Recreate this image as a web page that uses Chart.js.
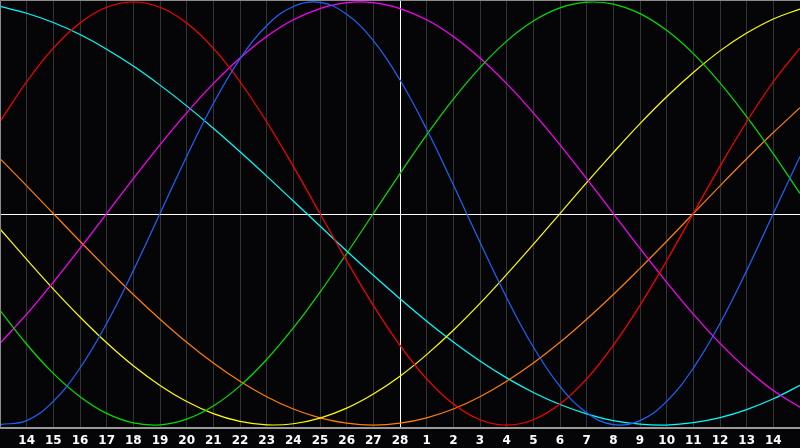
<!DOCTYPE html>
<html>
<head>
<meta charset="utf-8">
<script src="https://cdn.jsdelivr.net/npm/chart.js@4.4.0/dist/chart.umd.min.js"></script>
<style>
  html, body { margin: 0; padding: 0; background: #050507; }
  canvas { display: block; }
</style>
</head>
<body>
<canvas id="bioChart" width="800" height="448"></canvas>
<script>
// day labels, from the 13th to the 15th of the next month
const days = ['13', '14', '15', '16', '17', '18', '19', '20', '21', '22', '23', '24', '25', '26', '27', '28',
    '1', '2', '3', '4', '5', '6', '7', '8', '9', '10', '11', '12', '13', '14', '15'];

const physical = [-0.998, -0.979, -0.888, -0.731, -0.520, -0.270, 0, 0.270, 0.520, 0.731, 0.888, 0.979, 0.998,
    0.942, 0.817, 0.631, 0.398, 0.136, -0.136, -0.398, -0.631, -0.817, -0.942, -0.998, -0.979, -0.888, -0.731,
    -0.520, -0.270, 0, 0.270];
const emotional = [0.434, 0.623, 0.782, 0.901, 0.975, 1, 0.975, 0.901, 0.782, 0.623, 0.434, 0.223, 0,
    -0.223, -0.434, -0.623, -0.782, -0.901, -0.975, -1, -0.975, -0.901, -0.782, -0.623, -0.434, -0.223, 0,
    0.223, 0.434, 0.623, 0.782];
const intellectual = [-0.458, -0.618, -0.756, -0.866, -0.945, -0.990, -0.999, -0.972, -0.910, -0.815, -0.690,
    -0.541, -0.372, -0.189, 0, 0.189, 0.372, 0.541, 0.690, 0.815, 0.910, 0.972, 0.999, 0.990, 0.945, 0.866,
    0.756, 0.618, 0.458, 0.282, 0.095];
const intuitive = [-0.614, -0.476, -0.325, -0.165, 0, 0.165, 0.325, 0.476, 0.614, 0.735, 0.837, 0.916, 0.969,
    0.997, 0.997, 0.969, 0.916, 0.837, 0.735, 0.614, 0.476, 0.325, 0.165, 0, -0.165, -0.325, -0.476, -0.614,
    -0.735, -0.837, -0.916];
const aesthetic = [-0.073, -0.217, -0.357, -0.489, -0.611, -0.720, -0.813, -0.889, -0.946, -0.983, -0.999,
    -0.994, -0.967, -0.920, -0.853, -0.769, -0.667, -0.552, -0.425, -0.288, -0.146, 0, 0.146, 0.288, 0.425,
    0.552, 0.667, 0.769, 0.853, 0.920, 0.967];
const awareness = [0.259, 0.131, 0, -0.131, -0.259, -0.383, -0.5, -0.609, -0.707, -0.793, -0.866, -0.924,
    -0.966, -0.991, -1, -0.991, -0.966, -0.924, -0.866, -0.793, -0.707, -0.609, -0.5, -0.383, -0.259, -0.131,
    0, 0.131, 0.259, 0.383, 0.5];
const spiritual = [0.979, 0.947, 0.903, 0.846, 0.777, 0.697, 0.607, 0.509, 0.403, 0.292, 0.177, 0.059, -0.059,
    -0.177, -0.292, -0.403, -0.509, -0.607, -0.697, -0.777, -0.846, -0.903, -0.947, -0.979, -0.996, -1, -0.989,
    -0.965, -0.927, -0.876, -0.812];

const todayIndex = 15;

// gray frame on top/left and the white zero line across the plot
const framePlugin = {
    id: 'frame',
    beforeDatasetsDraw(chart) {
        const { ctx, chartArea, scales } = chart;
        const y0 = Math.round(scales.y.getPixelForValue(0)) + 0.5;
        ctx.save();
        ctx.strokeStyle = '#ffffff';
        ctx.lineWidth = 1;
        ctx.beginPath();
        ctx.moveTo(chartArea.left, y0);
        ctx.lineTo(chartArea.right, y0);
        ctx.stroke();
        ctx.restore();
    },
    afterDatasetsDraw(chart) {
        const { ctx, chartArea } = chart;
        ctx.save();
        ctx.strokeStyle = '#8a8a8a';
        ctx.lineWidth = 1;
        ctx.beginPath();
        ctx.moveTo(chartArea.left + 0.5, chartArea.bottom);
        ctx.lineTo(chartArea.left + 0.5, chartArea.top + 0.5);
        ctx.lineTo(chartArea.right, chartArea.top + 0.5);
        ctx.stroke();
        ctx.restore();
    }
};

function line(label, data, color) {
    return {
        label: label,
        data: data,
        borderColor: color,
        borderWidth: 1.2,
        pointRadius: 0,
        tension: 0.4,
        fill: false
    };
}

const ctx = document.getElementById('bioChart').getContext('2d');
const chart = new Chart(ctx, {
    type: 'line',
    data: {
        labels: days,
        datasets: [
            line('Physical', physical, '#1e64ff'),
            line('Emotional', emotional, '#ff0000'),
            line('Intellectual', intellectual, '#00e000'),
            line('Intuitive', intuitive, '#ff00ff'),
            line('Aesthetic', aesthetic, '#ffff00'),
            line('Awareness', awareness, '#ff7f00'),
            line('Spiritual', spiritual, '#00ffff')
        ]
    },
    options: {
        responsive: false,
        animation: false,
        devicePixelRatio: 1,
        layout: { padding: 0 },
        plugins: {
            legend: { display: false },
            tooltip: { enabled: false }
        },
        scales: {
            x: {
                offset: false,
                border: { color: '#9a9a9a', width: 2 },
                grid: {
                    drawTicks: false,
                    lineWidth: 1,
                    color: (c) => c.index === todayIndex ? '#ffffff' : '#333333'
                },
                ticks: {
                    color: '#ffffff',
                    padding: 6,
                    autoSkip: false,
                    maxRotation: 0,
                    font: { family: 'DejaVu Sans', weight: 'bold', size: 12 },
                    callback: (v, i) => (i === 0 || i === days.length - 1) ? '' : days[i]
                },
                afterFit: (axis) => {
                    axis.paddingLeft = 0;
                    axis.paddingRight = 0;
                    axis.height = 20;
                }
            },
            y: {
                display: false,
                min: -1.014,
                max: 1.0095
            }
        }
    },
    plugins: [framePlugin]
});
</script>
</body>
</html>
